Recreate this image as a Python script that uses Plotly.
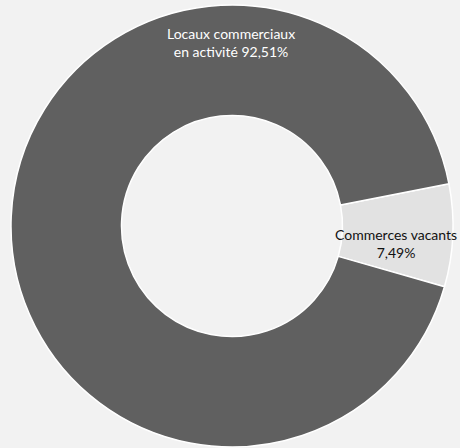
import plotly.graph_objects as go

labels = ["Commerces vacants", "Locaux commerciaux en activité"]
values = [7.49, 92.51]
label_lines = [["Commerces vacants", "7,49%"], ["Locaux commerciaux", "en activité 92,51%"]]
colors = ["#e2e2e2", "#606060"]
text_colors = ["#111111", "#ffffff"]

W, H = 460, 448
cx, cy, R = 232, 226, 221

fig = go.Figure(go.Pie(
    labels=labels,
    values=values,
    hole=0.50,
    sort=False,
    direction="clockwise",
    rotation=79,
    textinfo="none",
    hoverinfo="label+percent",
    marker=dict(colors=colors, line=dict(color="#ffffff", width=1.5)),
    domain=dict(x=[(cx - R) / W, (cx + R) / W], y=[1 - (cy + R) / H, 1 - (cy - R) / H]),
    showlegend=False,
))

ann_pos = [(396, 244), (231, 42)]
for lines, col, (px, py) in zip(label_lines, text_colors, ann_pos):
    fig.add_annotation(
        x=px / W, y=1 - py / H, xref="paper", yref="paper",
        text="<br>".join(lines), showarrow=False,
        font=dict(family="Lato, DejaVu Sans, sans-serif", size=14, color=col),
        align="center", xanchor="center", yanchor="middle",
    )

fig.update_layout(
    width=W, height=H,
    margin=dict(l=0, r=0, t=0, b=0),
    paper_bgcolor="#f2f2f2",
    plot_bgcolor="#f2f2f2",
)

fig.write_html(
    "out.html",
    config={"displayModeBar": False},
    post_script="document.body.style.margin='0';document.body.style.overflow='hidden';",
)
